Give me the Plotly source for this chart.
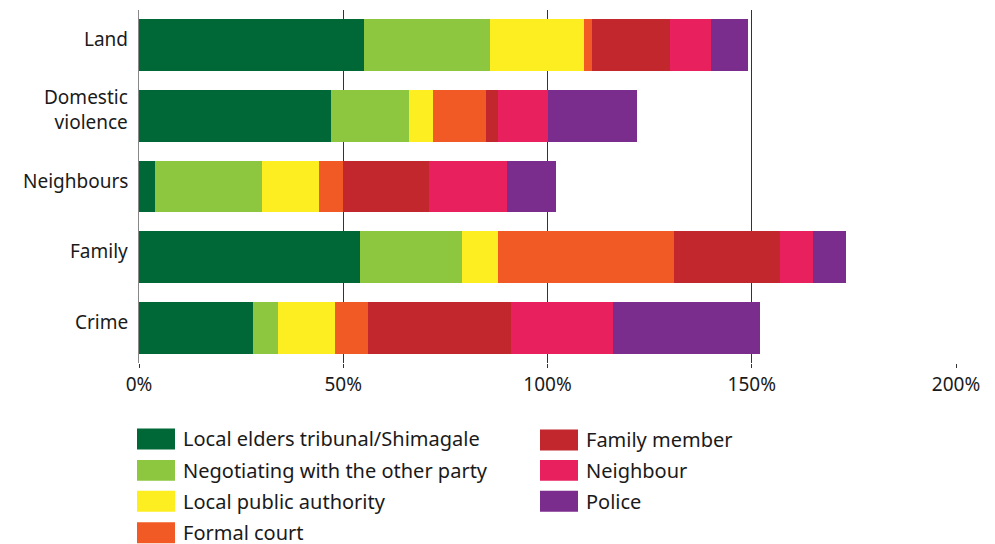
import plotly.graph_objects as go

categories = ["Land", "Domestic<br>violence", "Neighbours", "Family", "Crime"]
series_names = [
    "Local elders tribunal/Shimagale",
    "Negotiating with the other party",
    "Local public authority",
    "Formal court",
    "Family member",
    "Neighbour",
    "Police",
]
local_elders = [55, 47, 4, 54, 28]
negotiating = [31, 19, 26, 25, 6]
local_authority = [23, 6, 14, 9, 14]
formal_court = [2, 13, 6, 43, 8]
family_member = [19, 3, 21, 26, 35]
neighbour = [10, 12, 19, 8, 25]
police = [9, 22, 12, 8, 36]
series_values = [local_elders, negotiating, local_authority, formal_court,
                 family_member, neighbour, police]
colors = ["#006837", "#8dc63f", "#fcee21", "#f15a24", "#c1272d", "#e8215e", "#7b2d8e"]
tick_vals = [0, 50, 100, 150, 200]
tick_text = ["0%", "50%", "100%", "150%", "200%"]

FONT = "Noto Sans"
OFF = 8  # page body margin in the browser
W, H = 995 - OFF, 544 - OFF
PLOT_L, PLOT_R, PLOT_T, PLOT_B = 139, 956, 9.6, 363.4  # window pixels
L = PLOT_L - OFF
R = W - (PLOT_R - OFF)
T = PLOT_T - OFF
B = H - (PLOT_B - OFF)
n = len(categories)

fig = go.Figure()
for name, vals, col in zip(series_names, series_values, colors):
    fig.add_trace(go.Bar(
        y=categories, x=vals, name=name, orientation="h",
        marker=dict(color=col, line=dict(width=0)), showlegend=False,
    ))

# manual legend (two columns) using shapes + annotations
pw = W - L - R
ph = H - T - B
def px_to_paper_x(x):
    return (x - OFF - L) / pw
def px_to_paper_y(y):
    return (H - B - (y - OFF)) / ph

col_x = [137, 540]
row_y = [[439.5, 471, 502, 533.5], [440.5, 471, 502]]
shapes = []
annotations = []
idx = 0
for c in range(2):
    for ry in row_y[c]:
        x0 = col_x[c]
        shapes.append(dict(
            type="rect", xref="paper", yref="paper",
            x0=px_to_paper_x(x0), x1=px_to_paper_x(x0 + 38),
            y0=px_to_paper_y(ry + 10.5), y1=px_to_paper_y(ry - 10.5),
            fillcolor=colors[idx], line=dict(width=0), layer="above",
        ))
        annotations.append(dict(
            xref="paper", yref="paper", x=px_to_paper_x(x0 + 44), y=px_to_paper_y(ry),
            text=series_names[idx], showarrow=False, xanchor="left", yanchor="middle",
            font=dict(family=FONT, size=20, color="#1a1a1a"),
        ))
        idx += 1

# category labels (slightly above bar centres, as in the original)
for cat in categories:
    annotations.append(dict(
        xref="paper", yref="y", x=0, y=cat, xanchor="right", yanchor="middle",
        xshift=-9, yshift=6, text=cat, showarrow=False, align="right",
        font=dict(family=FONT, size=19, color="#1a1a1a"),
    ))

fig.update_layout(
    barmode="stack",
    bargap=0.265,
    width=W, height=H,
    margin=dict(l=L, r=R, t=T, b=B, pad=0, autoexpand=False),
    plot_bgcolor="white", paper_bgcolor="white",
    font=dict(family=FONT, size=19, color="#1a1a1a"),
    showlegend=False,
    shapes=shapes,
    annotations=annotations,
    xaxis=dict(
        range=[0, 200], tickvals=tick_vals, ticktext=tick_text,
        showgrid=True, gridcolor="#333333", gridwidth=1,
        zeroline=False, showline=False, automargin=False,
        ticks="outside", ticklen=4, tickcolor="#333333",
        tickfont=dict(family=FONT, size=19, color="#1a1a1a"),
        fixedrange=True,
    ),
    yaxis=dict(
        range=[n - 0.5, -0.5], showgrid=False, zeroline=False, automargin=False,
        showline=True, linecolor="#888888", linewidth=1,
        ticks="", showticklabels=False,
    ),
)

fig.write_html("out.html")
